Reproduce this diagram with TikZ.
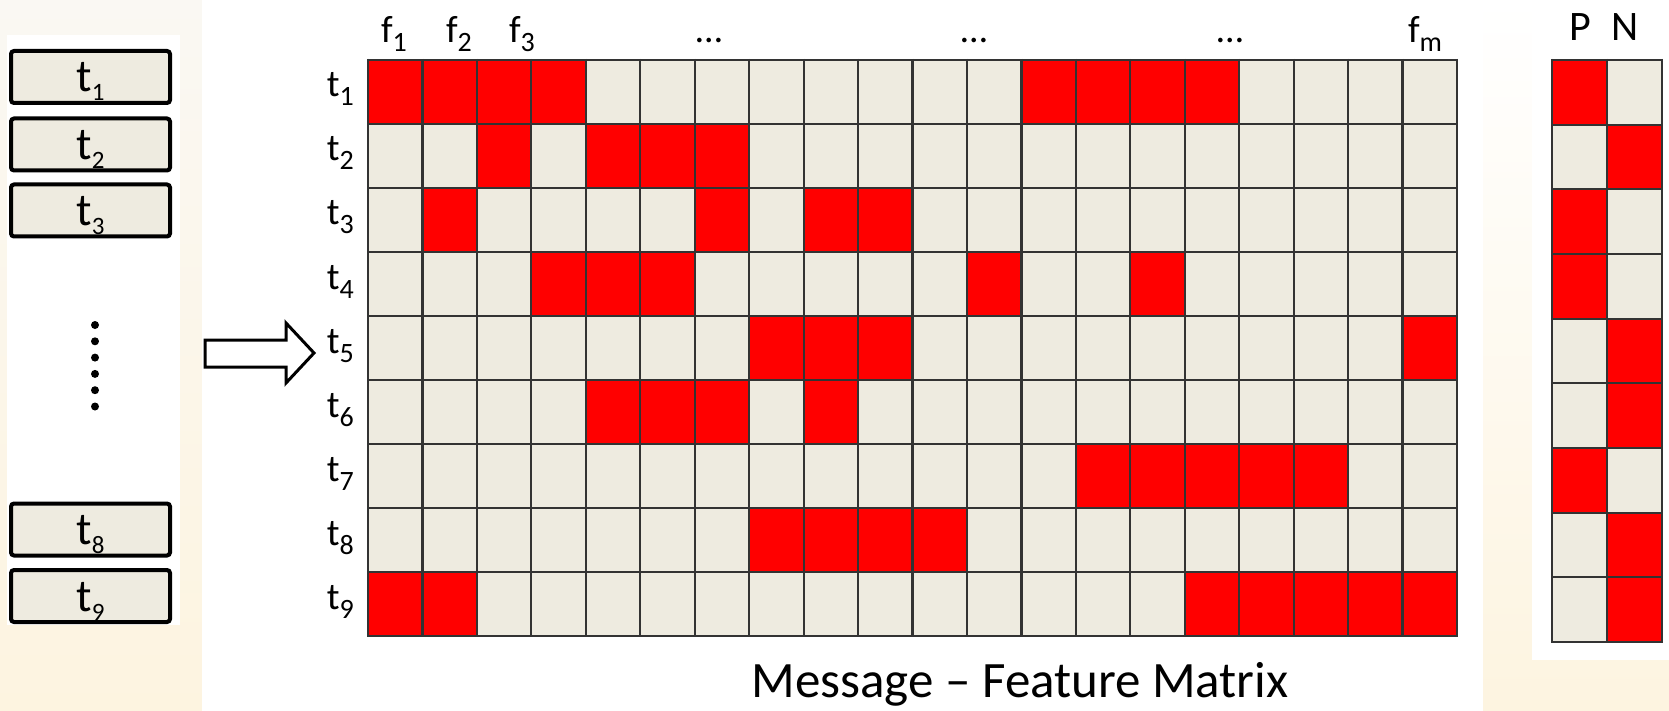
\documentclass[tikz,border=0pt]{standalone}
\usepackage{fontspec}
\setmainfont{Carlito}
\definecolor{cellbg}{RGB}{238,235,224}
\definecolor{cellred}{RGB}{255,0,0}
\definecolor{cream}{RGB}{253,244,224}
\definecolor{creamlight}{RGB}{250,248,243}
\newcommand\lbsub[2]{#1\raisebox{-9pt}{\fontsize{25}{25}\selectfont #2}}
\newcommand\mxsub[2]{#1\raisebox{-9pt}{\fontsize{28}{28}\selectfont #2}}
\tikzset{
  lbox/.style={draw=black, line width=4pt, rounded corners=3pt, fill=cellbg,
    minimum width=159pt, minimum height=52pt, inner sep=0pt,
    text height=30pt, text depth=0pt, font=\fontsize{46}{46}\selectfont},
  rowlab/.style={anchor=base east, inner sep=0pt, font=\fontsize{38}{38}\selectfont},
  collab/.style={anchor=base, inner sep=0pt, font=\fontsize{38}{38}\selectfont},
  pnlab/.style={anchor=base, inner sep=0pt, font=\fontsize{42}{42}\selectfont},
  caplab/.style={anchor=base, inner sep=0pt, font=\fontsize{51}{51}\selectfont},
  gridline/.style={draw=black!80, line width=2.2pt},
  blockarrow/.style={draw=black, line width=3pt, fill=white, line join=miter},
  dotmark/.style={fill=black},
}
\begin{document}
\begin{tikzpicture}[x=1pt,y=-1pt]
\useasboundingbox (0,0) rectangle (1669,711);
% background
\shade[top color=creamlight, bottom color=cream] (0,0) rectangle (202,711);
\fill[white] (7,35) rectangle (180,625);
\fill[white] (202,0) rectangle (1483,711);
\shade[top color=white, bottom color=cream] (1483,0) rectangle (1669,711);
\fill[white] (1532,0) rectangle (1669,660);

% left boxes
\node[lbox] (b1) at (90.5,77) {\lbsub{t}{1}};
\node[lbox] (b2) at (90.5,144.5) {\lbsub{t}{2}};
\node[lbox] (b3) at (90.5,210.5) {\lbsub{t}{3}};
\node[lbox] (b8) at (90.5,529.5) {\lbsub{t}{8}};
\node[lbox] (b9) at (90.5,596) {\lbsub{t}{9}};
\foreach \k in {0,...,5} \fill[dotmark] (95,{325+\k*16.3}) circle (4);

% block arrow
\draw[blockarrow] (205,340) -- (286,340) -- (286,323) -- (314,353) -- (286,383) -- (286,367) -- (205,367) -- cycle;

% main matrix
\fill[cellbg] (368,60) rectangle (1457,636);
\foreach \r/\cl in {1/{1,2,3,4,13,14,15,16}, 2/{3,5,6,7}, 3/{2,7,9,10}, 4/{4,5,6,12,15},
  5/{8,9,10,20}, 6/{5,6,7,9}, 7/{14,15,16,17,18}, 8/{8,9,10,11}, 9/{1,2,16,17,18,19,20}}
  \foreach \c in \cl
    \fill[cellred] ({368+(\c-1)*54.45},{60+(\r-1)*64}) rectangle ++(54.45,64);
\foreach \k in {0,...,20} \draw[gridline] ({368+\k*54.45},59) -- ({368+\k*54.45},637);
\foreach \k in {0,...,9} \draw[gridline] (367,{60+\k*64}) -- (1458,{60+\k*64});

% row labels
\foreach \i in {1,...,9}
  \node[rowlab] (r\i) at (354,{97+(\i-1)*64}) {\mxsub{t}{\i}};

% column labels
\node[collab] (f1) at (394,43) {\mxsub{f}{1}};
\node[collab] (f2) at (459,43) {\mxsub{f}{2}};
\node[collab] (f3) at (522,43) {\mxsub{f}{3}};
\node[collab] (d1) at (709,43) {\char"2026};
\node[collab] (d2) at (974,43) {\char"2026};
\node[collab] (d3) at (1230,43) {\char"2026};
\node[collab] (fm) at (1425,43) {\mxsub{f}{m}};

% P/N matrix
\fill[cellbg] (1552,60) rectangle (1662,642);
\foreach \r/\c in {1/0,2/1,3/0,4/0,5/1,6/1,7/0,8/1,9/1}
  \fill[cellred] ({1552+\c*55},{60+(\r-1)*64.67}) rectangle ++(55,64.67);
\foreach \k in {0,1,2} \draw[gridline] ({1552+\k*55},59) -- ({1552+\k*55},643);
\foreach \k in {0,...,9} \draw[gridline] (1551,{60+\k*64.67}) -- (1663,{60+\k*64.67});
\node[pnlab] (P) at (1580,41) {P};
\node[pnlab] (N) at (1625,41) {N};

% caption
\node[caplab] (cap) at (1020,697) {Message – Feature Matrix};
\end{tikzpicture}
\end{document}
